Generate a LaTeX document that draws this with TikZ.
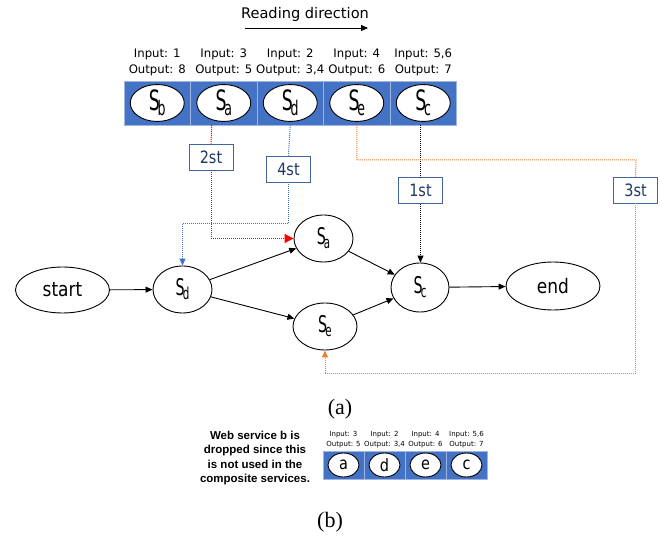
\documentclass[tikz,border=0pt]{standalone}
\usepackage{fontspec}
\setmainfont{DejaVu Sans}
\newfontfamily\narrowfont[FakeStretch=0.85]{DejaVu Sans}
\newfontfamily\slimfont[FakeStretch=0.62]{DejaVu Sans}
\newfontfamily\capfont{Liberation Serif}
\newfontfamily\notefont{Liberation Sans}
\usetikzlibrary{positioning}
\usetikzlibrary{shapes.geometric}
\usetikzlibrary{arrows.meta}

\definecolor{cellblue}{HTML}{4472C4}
\definecolor{cellline}{HTML}{9DB5E0}
\definecolor{tagline}{HTML}{41649B}
\definecolor{tagtext}{HTML}{1F3864}
\definecolor{dotred}{HTML}{FF0000}
\definecolor{dotblue}{HTML}{4472C4}
\definecolor{dotorange}{HTML}{ED7D31}

\newcommand{\svc}[1]{S\kern-0.08em\raisebox{-0.18em}{\scalebox{0.72}{#1}}}

\tikzset{
    cell/.style={rectangle, draw=cellline, fill=cellblue, line width=0.8, minimum width=66.5pt, minimum height=44pt, inner sep=0, outer sep=0},
    smallcell/.style={cell, minimum width=41pt, minimum height=28pt},
    svcell/.style={ellipse, draw, fill=white, line width=0.9, minimum width=54pt, minimum height=34pt, inner sep=0, font=\slimfont\fontsize{28}{30}\selectfont},
    smallsv/.style={svcell, minimum width=31pt, minimum height=24pt, font=\narrowfont\fontsize{17}{19}\selectfont},
    iolabel/.style={align=center, inner sep=0, font=\fontsize{11.7}{16}\selectfont},
    smallio/.style={align=center, inner sep=0, font=\fontsize{7}{10}\selectfont},
    state/.style={ellipse, draw, line width=0.9, inner sep=0, minimum width=59pt, minimum height=47pt, font=\slimfont\fontsize{23}{25}\selectfont},
    endstate/.style={state, minimum width=94pt, font=\narrowfont\fontsize{20}{22}\selectfont},
    tag/.style={rectangle, draw=tagline, fill=white, line width=0.9, text=tagtext, minimum width=44pt, minimum height=26pt, inner sep=0, font=\narrowfont\fontsize{17}{19}\selectfont},
    arr/.style={-{Triangle[length=7pt,width=6pt]}, line width=0.9},
    dotline/.style={line width=1, dash pattern=on 1pt off 1pt},
    capt/.style={font=\capfont\fontsize{22}{24}\selectfont},
    note/.style={align=center, font=\notefont\bfseries\fontsize{11.5}{14.3}\selectfont}
}

\begin{document}
\begin{tikzpicture}[x=1pt, y=-1pt]
    \useasboundingbox (0,0) rectangle (662,540);
    % reading direction %
    \node[font=\fontsize{14.6}{17}\selectfont] (readtxt) at (305,14) {Reading direction};
    \coordinate (rd1) at (245,28);
    \coordinate (rd2) at (368,28);
    \draw[arr] (rd1) -- (rd2);
    % service cells %
    \node[cell] (cb) at (157.25,103) {};
    \node[cell, right = 0pt of cb] (ca) {};
    \node[cell, right = 0pt of ca] (cd) {};
    \node[cell, right = 0pt of cd] (ce) {};
    \node[cell, right = 0pt of ce] (cc) {};
    \node[svcell] (sb) at (cb) {\svc{b}};
    \node[svcell] (sa) at (ca) {\svc{a}};
    \node[svcell] (sd) at (cd) {\svc{d}};
    \node[svcell] (se) at (ce) {\svc{e}};
    \node[svcell] (sc) at (cc) {\svc{c}};
    \node[iolabel, above = 5pt of cb] (iob) {Input: 1\\Output: 8};
    \node[iolabel, above = 5pt of ca] (ioa) {Input: 3\\Output: 5};
    \node[iolabel, above = 5pt of cd] (iod) {Input: 2\\Output: 3,4};
    \node[iolabel, above = 5pt of ce] (ioe) {Input: 4\\Output: 6};
    \node[iolabel, above = 5pt of cc] (ioc) {Input: 5,6\\Output: 7};
    % graph %
    \node[endstate, minimum height=46pt] (start) at (62.5,290) {start};
    \node[state] (gd) at (182.5,289.5) {\svc{d}};
    \node[state] (ga) at (323.5,238.5) {\svc{a}};
    \node[state, minimum width=64pt] (ge) at (325,326.5) {\svc{e}};
    \node[state, minimum width=58pt, minimum height=49pt] (gc) at (420,287.5) {\svc{c}};
    \node[endstate, minimum height=48pt] (end) at (553,286) {end};
    \draw[arr] (start) -- (gd);
    \draw[arr] (gd) -- (ga);
    \draw[arr] (gd) -- (ge);
    \draw[arr] (ga) -- (gc);
    \draw[arr] (ge) -- (gc);
    \draw[arr] (gc) -- (end);
    % order tags %
    \node[tag] (t2) at (211,157) {2st};
    \node[tag] (t4) at (288.5,169) {4st};
    \node[tag] (t1) at (420.5,190.5) {1st};
    \node[tag] (t3) at (635.5,190) {3st};
    \coordinate (k4) at (182.5,224);
    \coordinate (k3a) at (636,160);
    \coordinate (k3b) at (325,374);
    % dotted links %
    \draw[dotline, dotred] ([xshift=-12pt]ca.south) -- (t2.north);
    \draw[dotline, dotred, -{Triangle[length=9pt,width=9pt]}] (t2.south) |- (ga.west);
    \draw[dotline, dotblue] (cd.south) -- (t4.north);
    \draw[dotline, dotblue, -{Triangle[length=7pt,width=6pt]}] (t4.south) |- (k4) -- (gd.north);
    \draw[dotline, black] (cc.south -| t1.north) -- (t1.north);
    \draw[dotline, black, -{Triangle[length=7pt,width=6pt]}] (t1.south) -- (t1.south |- gc.north);
    \draw[dotline, dotorange] (ce.south) |- (k3a) -- (t3.north);
    \draw[dotline, dotorange, -{Triangle[length=7pt,width=6pt]}] (t3.south) |- (k3b) -- (ge.south);
    \node[capt] (capa) at (340,409) {(a)};
    % part b %
    \node[note] (drop) at (255,458) {Web service b is\\dropped since this\\is not used in the\\composite services.};
    \node[smallcell] (pa) at (343.5,465) {};
    \node[smallcell, right = 0pt of pa] (pd) {};
    \node[smallcell, right = 0pt of pd] (pe) {};
    \node[smallcell, right = 0pt of pe] (pc) {};
    \node[smallsv] (qa) at (pa) {a};
    \node[smallsv] (qd) at (pd) {d};
    \node[smallsv] (qe) at (pe) {e};
    \node[smallsv] (qc) at (pc) {c};
    \node[smallio, above = 3pt of pa] (ja) {Input: 3\\Output: 5};
    \node[smallio, above = 3pt of pd] (jd) {Input: 2\\Output: 3,4};
    \node[smallio, above = 3pt of pe] (je) {Input: 4\\Output: 6};
    \node[smallio, above = 3pt of pc] (jc) {Input: 5,6\\Output: 7};
    \node[capt] (capb) at (330,522) {(b)};
\end{tikzpicture}
\end{document}
